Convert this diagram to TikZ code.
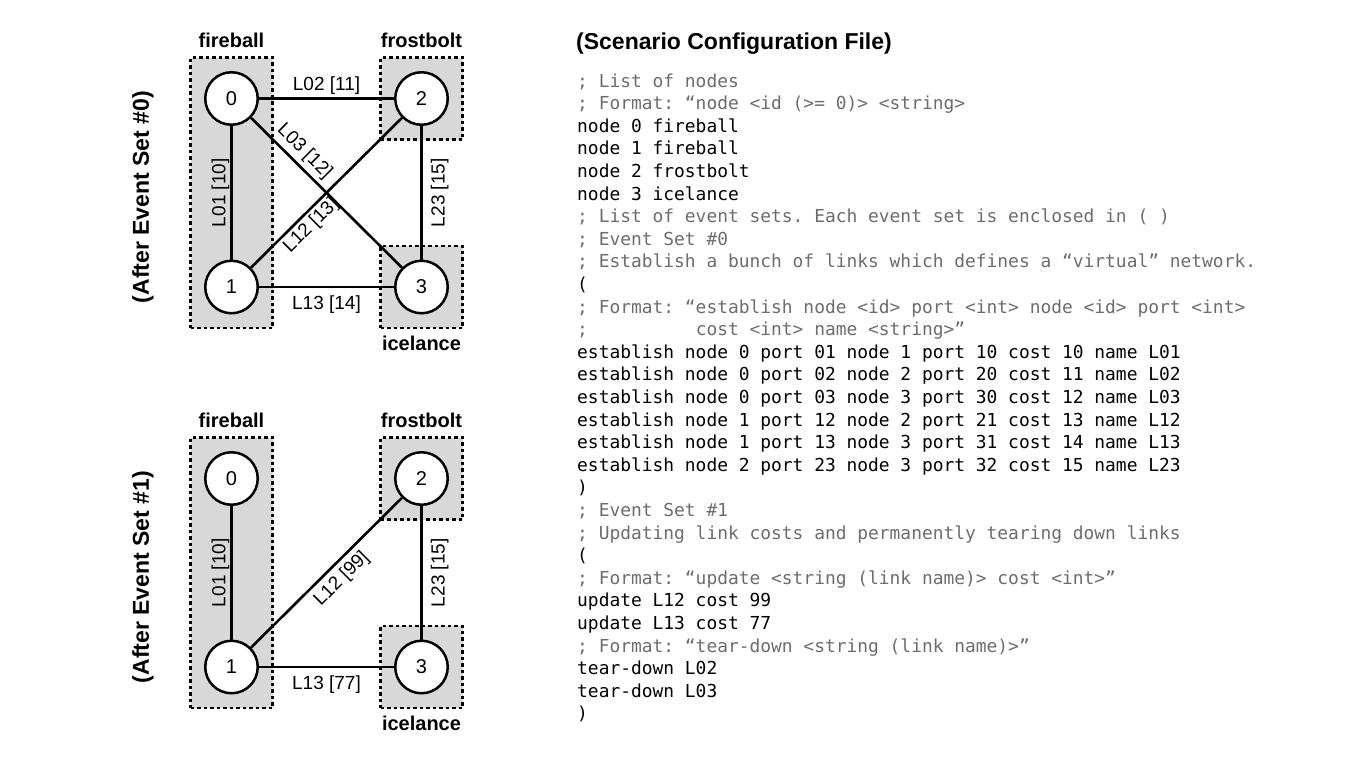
\documentclass[tikz,border=0pt]{standalone}
\usepackage{fontspec}
\setmainfont{Liberation Sans}
\setmonofont{DejaVu Sans Mono}
\usepackage{xcolor}
\usetikzlibrary{positioning, fit, backgrounds}
\definecolor{grpfill}{HTML}{D8D8D8}
\definecolor{cmtgray}{HTML}{6D6D6D}

\tikzset{
  peer/.style={circle, draw, line width=2.5pt, fill=white, minimum size=52.5pt, inner sep=0pt,
    font=\fontsize{20}{24}\selectfont},
  link/.style={line width=2.6pt},
  grp/.style={draw, fill=grpfill, line width=2.4pt, dash pattern=on 3.5pt off 3pt, inner sep=13.5pt},
  grplbl/.style={font=\fontsize{20}{24}\selectfont\bfseries, inner sep=0pt},
  cost/.style={font=\fontsize{19}{23}\selectfont, inner sep=0pt},
  caption/.style={font=\fontsize{23}{28}\selectfont\bfseries, inner sep=0pt},
  cfg/.style={anchor=west, inner sep=0pt, text height=0.7em, text depth=0pt,
    font=\fontsize{17.9}{21}\selectfont\ttfamily},
  cmt/.style={cfg, text=cmtgray}
}

\begin{document}
\begin{tikzpicture}[x=1pt, y=1pt]
\useasboundingbox (0,0) rectangle (1352,-758);

% side captions
\node[caption, rotate=90] (capA) at (143,-197) {(After Event Set \#0)};
\node[caption, rotate=90] (capB) at (143,-577) {(After Event Set \#1)};

% after event set #0
\node[peer] (a0) at (231.5,-98.5) {0};
\node[peer] (a1) at (231.5,-287) {1};
\node[peer] (a2) at (421.5,-98.5) {2};
\node[peer] (a3) at (421.5,-287) {3};

\draw[link] (a1) -- node[cost, sloped, above=1pt] {L01 [10]} (a0);
\draw[link] (a0) -- node[cost, above=2.7pt] {L02 [11]} (a2);
\draw[link] (a0) -- node[cost, sloped, above=3.5pt, pos=0.29] {L03 [12]} (a3);
\draw[link] (a1) -- node[cost, sloped, below=2.5pt, pos=0.34] {L12 [13]} (a2);
\draw[link] (a1) -- node[cost, below=7.5pt] {L13 [14]} (a3);
\draw[link] (a3) -- node[cost, sloped, below=8pt] {L23 [15]} (a2);

% after event set #1
\node[peer] (b0) at (231.5,-478.5) {0};
\node[peer] (b1) at (231.5,-667) {1};
\node[peer] (b2) at (421.5,-478.5) {2};
\node[peer] (b3) at (421.5,-667) {3};

\draw[link] (b1) -- node[cost, sloped, above=1pt] {L01 [10]} (b0);
\draw[link] (b1) -- node[cost, sloped, below=5pt, pos=0.53] {L12 [99]} (b2);
\draw[link] (b1) -- node[cost, below=7.5pt] {L13 [77]} (b3);
\draw[link] (b3) -- node[cost, sloped, below=8pt] {L23 [15]} (b2);

% shaded groups
\begin{scope}[on background layer]
  \fill[white] (0,0) rectangle (1352,-758);
  \node[grp, fit=(a0)(a1)] (fbA) {};
  \node[grp, fit=(a2)] (fsA) {};
  \node[grp, fit=(a3)] (icA) {};
  \node[grp, fit=(b0)(b1)] (fbB) {};
  \node[grp, fit=(b2)] (fsB) {};
  \node[grp, fit=(b3)] (icB) {};
\end{scope}
\node[grplbl, above=8pt of fbA] (fbAt) {fireball};
\node[grplbl, above=8pt of fsA] (fsAt) {frostbolt};
\node[grplbl, below=6.5pt of icA] (icAt) {icelance};
\node[grplbl, above=8pt of fbB] (fbBt) {fireball};
\node[grplbl, above=8pt of fsB] (fsBt) {frostbolt};
\node[grplbl, below=6.5pt of icB] (icBt) {icelance};

% configuration file
\node[caption, anchor=west] (title) at (576,-43.5) {(Scenario Configuration File)};
\node[cmt] (c0) at (577,-83.5) {; List of nodes};
\node[cmt] (c1) at (577,-106.1) {; Format: “node <id (>= 0)> <string>};
\node[cfg] (c2) at (577,-128.7) {node 0 fireball};
\node[cfg] (c3) at (577,-151.3) {node 1 fireball};
\node[cfg] (c4) at (577,-173.9) {node 2 frostbolt};
\node[cfg] (c5) at (577,-196.5) {node 3 icelance};
\node[cmt] (c6) at (577,-219.1) {; List of event sets. Each event set is enclosed in ( )};
\node[cmt] (c7) at (577,-241.7) {; Event Set \#0};
\node[cmt] (c8) at (577,-264.3) {; Establish a bunch of links which defines a “virtual” network.};
\node[cfg] (c9) at (577,-286.9) {(};
\node[cmt] (c10) at (577,-309.5) {; Format: “establish node <id> port <int> node <id> port <int>};
\node[cmt] (c11) at (577,-332.1) {;\ \ \ \ \ \ \ \ \ \ cost <int> name <string>”};
\node[cfg] (c12) at (577,-354.7) {establish node 0 port 01 node 1 port 10 cost 10 name L01};
\node[cfg] (c13) at (577,-377.3) {establish node 0 port 02 node 2 port 20 cost 11 name L02};
\node[cfg] (c14) at (577,-399.9) {establish node 0 port 03 node 3 port 30 cost 12 name L03};
\node[cfg] (c15) at (577,-422.5) {establish node 1 port 12 node 2 port 21 cost 13 name L12};
\node[cfg] (c16) at (577,-445.1) {establish node 1 port 13 node 3 port 31 cost 14 name L13};
\node[cfg] (c17) at (577,-467.7) {establish node 2 port 23 node 3 port 32 cost 15 name L23};
\node[cfg] (c18) at (577,-490.3) {)};
\node[cmt] (c19) at (577,-512.9) {; Event Set \#1};
\node[cmt] (c20) at (577,-535.5) {; Updating link costs and permanently tearing down links};
\node[cfg] (c21) at (577,-558.1) {(};
\node[cmt] (c22) at (577,-580.7) {; Format: “update <string (link name)> cost <int>”};
\node[cfg] (c23) at (577,-603.3) {update L12 cost 99};
\node[cfg] (c24) at (577,-625.9) {update L13 cost 77};
\node[cmt] (c25) at (577,-648.5) {; Format: “tear-down <string (link name)>”};
\node[cfg] (c26) at (577,-671.1) {tear-down L02};
\node[cfg] (c27) at (577,-693.7) {tear-down L03};
\node[cfg] (c28) at (577,-716.3) {)};
\end{tikzpicture}
\end{document}
